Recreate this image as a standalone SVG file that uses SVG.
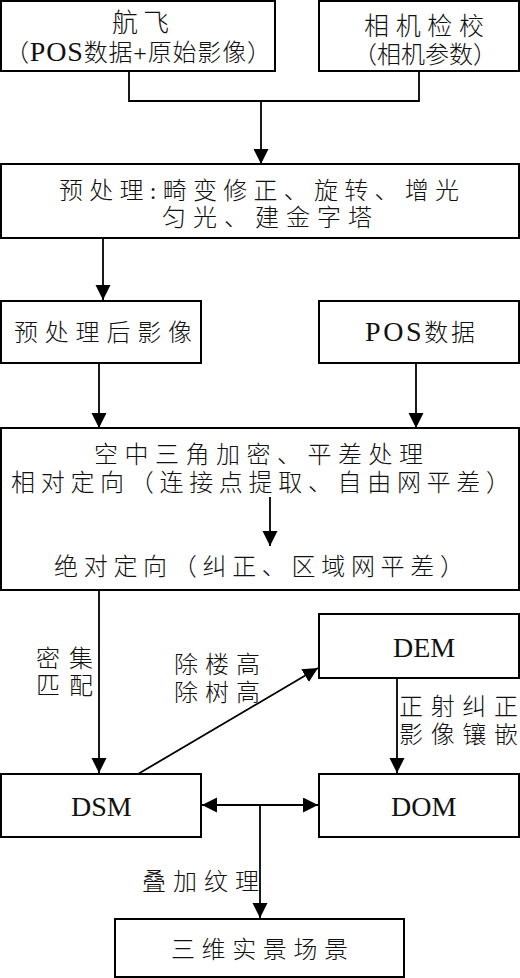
<svg xmlns="http://www.w3.org/2000/svg" width="520" height="978" viewBox="0 0 520 978">
<defs>
<marker id="arr" markerUnits="userSpaceOnUse" markerWidth="16" markerHeight="16" refX="15" refY="7.5" orient="auto-start-reverse" viewBox="0 0 16 16">
<path d="M0,0 L15,7.5 L0,15 z" fill="#000"/>
</marker>
<style>
rect.box{fill:#fff;stroke:#000;stroke-width:2}
text{font-family:"Liberation Serif","Noto Sans CJK SC",serif;font-size:24px;font-weight:300;fill:#111}
.lat{font-size:28px;font-weight:400}
.c{fill:none;stroke:#000;stroke-width:1.8}
.a{marker-end:url(#arr)}
</style>
</defs>
<rect width="520" height="978" fill="#fff"/>
<g id="connectors">
<path class="c" d="M129,71 V101 H419 V71"/>
<line class="c a" x1="261" y1="101" x2="261" y2="164"/>
<line class="c a" x1="103" y1="238" x2="103" y2="300"/>
<line class="c a" x1="99" y1="363" x2="99" y2="428"/>
<line class="c a" x1="416" y1="363" x2="416" y2="428"/>
<line class="c a" x1="99" y1="590" x2="99" y2="773"/>
<line class="c a" x1="138" y1="774" x2="318" y2="668"/>
<line class="c a" x1="397" y1="678" x2="397" y2="773"/>
<line class="c a" x1="202" y1="805" x2="318" y2="805" marker-start="url(#arr)"/>
<line class="c a" x1="260" y1="805" x2="260" y2="918"/>
<text x="36" y="667" textLength="57">密集</text>
<text x="36" y="694" textLength="57">匹配</text>
<text x="174" y="673" textLength="86">除楼高</text>
<text x="174" y="701" textLength="86">除树高</text>
<text x="399" y="715" textLength="119">正射纠正</text>
<text x="399" y="743" textLength="119">影像镶嵌</text>
<text x="142" y="890" textLength="117">叠加纹理</text>
</g>
<g id="n-flight">
<rect class="box" x="1" y="1" width="274" height="70"/>
<text x="112" y="32" textLength="57" style="font-size:26px">航飞</text>
<text x="5" y="61" textLength="266">（<tspan class="lat">POS</tspan>数据+原始影像）</text>
</g>
<g id="n-calib">
<rect class="box" x="319" y="1" width="200" height="70"/>
<text x="364" y="35" textLength="120" style="font-size:25px">相机检校</text>
<text x="353" y="63" textLength="144">（相机参数）</text>
</g>
<g id="n-pre">
<rect class="box" x="1" y="164" width="518" height="74"/>
<text x="59" y="199" textLength="400">预处理:畸变修正、旋转、增光</text>
<text x="162" y="226" textLength="210">匀光、建金字塔</text>
</g>
<g id="n-preimg">
<rect class="box" x="1" y="301" width="200" height="62"/>
<text x="14" y="341" textLength="178">预处理后影像</text>
</g>
<g id="n-pos">
<rect class="box" x="319" y="301" width="200" height="62"/>
<text x="365" y="341" textLength="110"><tspan class="lat">POS</tspan>数据</text>
</g>
<g id="n-aero">
<rect class="box" x="1" y="428" width="518" height="162"/>
<text x="94" y="463" textLength="329">空中三角加密、平差处理</text>
<text x="11" y="491" textLength="499">相对定向（连接点提取、自由网平差）</text>
<line class="c a" x1="270" y1="497" x2="270" y2="546"/>
<text x="54" y="575" textLength="410">绝对定向（纠正、区域网平差）</text>
</g>
<g id="n-dem">
<rect class="box" x="319" y="614" width="200" height="64"/>
<text class="lat" x="393" y="657">DEM</text>
</g>
<g id="n-dsm">
<rect class="box" x="1" y="774" width="200" height="63"/>
<text class="lat" x="71" y="816">DSM</text>
</g>
<g id="n-dom">
<rect class="box" x="319" y="774" width="200" height="63"/>
<text class="lat" x="391" y="816">DOM</text>
</g>
<g id="n-scene">
<rect class="box" x="115" y="919" width="289" height="58"/>
<text x="171" y="958" textLength="177">三维实景场景</text>
</g>
</svg>
